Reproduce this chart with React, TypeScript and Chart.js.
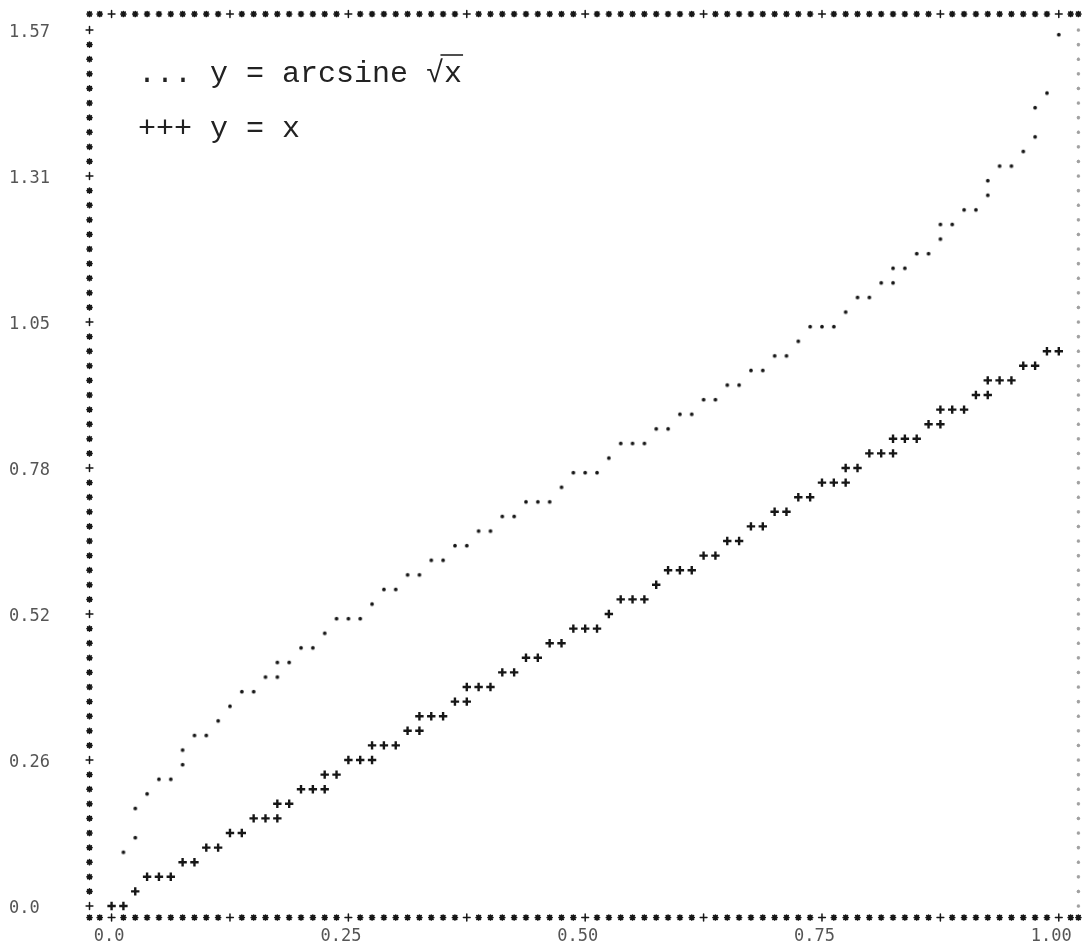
import React, { useEffect, useRef } from "react";
import { Chart, registerables } from "chart.js";

Chart.register(...registerables);

// ---- axis ticks ----
const xTickValues = [0, 0.25, 0.5, 0.75, 1.0];
const xTickLabels = ["0.0", "0.25", "0.50", "0.75", "1.00"];
const yTickValues = [0, 0.2618, 0.5236, 0.7854, 1.0472, 1.309, 1.5708];
const yTickLabels = ["0.0", "0.26", "0.52", "0.78", "1.05", "1.31", "1.57"];

// ---- series: y = arcsine sqrt(x)  (printed as ".") ----
const arcsineX = [
  0.0125, 0.025, 0.025, 0.0375, 0.05, 0.0625, 0.075, 0.075, 0.0875, 0.1,
  0.1125, 0.125, 0.1375, 0.15, 0.1625, 0.175, 0.175, 0.1875, 0.2, 0.2125,
  0.225, 0.2375, 0.25, 0.2625, 0.275, 0.2875, 0.3, 0.3125, 0.325, 0.3375,
  0.35, 0.3625, 0.375, 0.3875, 0.4, 0.4125, 0.425, 0.4375, 0.45, 0.4625,
  0.475, 0.4875, 0.5, 0.5125, 0.525, 0.5375, 0.55, 0.5625, 0.575, 0.5875,
  0.6, 0.6125, 0.625, 0.6375, 0.65, 0.6625, 0.675, 0.6875, 0.7, 0.7125,
  0.725, 0.7375, 0.75, 0.7625, 0.775, 0.7875, 0.8, 0.8125, 0.825, 0.825,
  0.8375, 0.85, 0.8625, 0.875, 0.875, 0.8875, 0.9, 0.9125, 0.925, 0.925,
  0.9375, 0.95, 0.9625, 0.975, 0.975, 0.9875, 1.0,
];
const arcsineY = [
  0.1047, 0.1309, 0.1833, 0.2094, 0.2356, 0.2356, 0.2618, 0.288, 0.3142, 0.3142,
  0.3403, 0.3665, 0.3927, 0.3927, 0.4189, 0.4189, 0.4451, 0.4451, 0.4712, 0.4712,
  0.4974, 0.5236, 0.5236, 0.5236, 0.5498, 0.576, 0.576, 0.6021, 0.6021, 0.6283,
  0.6283, 0.6545, 0.6545, 0.6807, 0.6807, 0.7069, 0.7069, 0.733, 0.733, 0.733,
  0.7592, 0.7854, 0.7854, 0.7854, 0.8116, 0.8378, 0.8378, 0.8378, 0.8639, 0.8639,
  0.8901, 0.8901, 0.9163, 0.9163, 0.9425, 0.9425, 0.9687, 0.9687, 0.9948, 0.9948,
  1.021, 1.0472, 1.0472, 1.0472, 1.0734, 1.0996, 1.0996, 1.1257, 1.1257, 1.1519,
  1.1519, 1.1781, 1.1781, 1.2043, 1.2305, 1.2305, 1.2566, 1.2566, 1.2828, 1.309,
  1.3352, 1.3352, 1.3614, 1.3875, 1.4399, 1.4661, 1.5708,
];

// ---- series: y = x  (printed as "+") ----
const identityX = [
  0, 0.0125, 0.025, 0.0375, 0.05, 0.0625, 0.075, 0.0875, 0.1, 0.1125,
  0.125, 0.1375, 0.15, 0.1625, 0.175, 0.175, 0.1875, 0.2, 0.2125, 0.225,
  0.225, 0.2375, 0.25, 0.2625, 0.275, 0.275, 0.2875, 0.3, 0.3125, 0.325,
  0.325, 0.3375, 0.35, 0.3625, 0.375, 0.375, 0.3875, 0.4, 0.4125, 0.425,
  0.4375, 0.45, 0.4625, 0.475, 0.4875, 0.5, 0.5125, 0.525, 0.5375, 0.55,
  0.5625, 0.575, 0.5875, 0.6, 0.6125, 0.625, 0.6375, 0.65, 0.6625, 0.675,
  0.6875, 0.7, 0.7125, 0.725, 0.7375, 0.75, 0.7625, 0.775, 0.775, 0.7875,
  0.8, 0.8125, 0.825, 0.825, 0.8375, 0.85, 0.8625, 0.875, 0.875, 0.8875,
  0.9, 0.9125, 0.925, 0.925, 0.9375, 0.95, 0.9625, 0.975, 0.9875, 1.0,
];
const identityY = [
  0, 0, 0.0262, 0.0524, 0.0524, 0.0524, 0.0785, 0.0785, 0.1047, 0.1047,
  0.1309, 0.1309, 0.1571, 0.1571, 0.1571, 0.1833, 0.1833, 0.2094, 0.2094, 0.2094,
  0.2356, 0.2356, 0.2618, 0.2618, 0.2618, 0.288, 0.288, 0.288, 0.3142, 0.3142,
  0.3403, 0.3403, 0.3403, 0.3665, 0.3665, 0.3927, 0.3927, 0.3927, 0.4189, 0.4189,
  0.4451, 0.4451, 0.4712, 0.4712, 0.4974, 0.4974, 0.4974, 0.5236, 0.5498, 0.5498,
  0.5498, 0.576, 0.6021, 0.6021, 0.6021, 0.6283, 0.6283, 0.6545, 0.6545, 0.6807,
  0.6807, 0.7069, 0.7069, 0.733, 0.733, 0.7592, 0.7592, 0.7592, 0.7854, 0.7854,
  0.8116, 0.8116, 0.8116, 0.8378, 0.8378, 0.8378, 0.8639, 0.8639, 0.8901, 0.8901,
  0.8901, 0.9163, 0.9163, 0.9425, 0.9425, 0.9425, 0.9687, 0.9687, 0.9948, 0.9948,
];

const legendLines = ["... y = arcsine \u221Ax", "+++ y = x"];

// ---- layout constants ----
const X_MIN = -0.0233;
const X_MAX = 1.0207;
const Y_MIN = -0.0206;
const Y_MAX = 1.5995;
const COLUMN_STEP = 0.0125; // printer column pitch, in x units
const ROW_STEP = Math.PI / 120; // printer line pitch, in y units
const INK = "#161616";

function makeDotStyle(): HTMLCanvasElement {
  const c = document.createElement("canvas");
  c.width = 8;
  c.height = 18;
  const g = c.getContext("2d")!;
  g.fillStyle = INK;
  g.beginPath();
  g.arc(4, 9 + 4.7, 1.85, 0, Math.PI * 2);
  g.fill();
  return c;
}

const printerFrame = {
  id: "printerFrame",
  afterDatasetsDraw(chart: any) {
    const { ctx, chartArea: a, scales } = chart;
    const xs = scales.x;
    const ys = scales.y;
    ctx.save();
    ctx.lineCap = "round";
    const star = (x: number, y: number, color: string, s: number, w: number) => {
      ctx.strokeStyle = color;
      ctx.lineWidth = w;
      ctx.beginPath();
      ctx.moveTo(x - s, y);
      ctx.lineTo(x + s, y);
      ctx.moveTo(x, y - s);
      ctx.lineTo(x, y + s);
      const d = s * 0.72;
      ctx.moveTo(x - d, y - d);
      ctx.lineTo(x + d, y + d);
      ctx.moveTo(x - d, y + d);
      ctx.lineTo(x + d, y - d);
      ctx.stroke();
    };
    const plus = (x: number, y: number, color: string, s: number, w: number) => {
      ctx.strokeStyle = color;
      ctx.lineWidth = w;
      ctx.beginPath();
      ctx.moveTo(x - s, y);
      ctx.lineTo(x + s, y);
      ctx.moveTo(x, y - s);
      ctx.lineTo(x, y + s);
      ctx.stroke();
    };
    for (let c = -3; c <= 83; c++) {
      const px = xs.getPixelForValue(c * COLUMN_STEP);
      if (px < a.left + 5 || px > a.right - 5) continue;
      if (c % 10 === 0) {
        plus(px, a.bottom, INK, 3.4, 1.5);
        plus(px, a.top, INK, 3.4, 1.5);
      } else {
        star(px, a.bottom, INK, 2.5, 1.7);
        star(px, a.top, INK, 2.5, 1.7);
      }
    }
    star(a.left, a.bottom, INK, 2.5, 1.7);
    star(a.left, a.top, INK, 2.5, 1.7);
    star(a.right, a.top, INK, 2.5, 1.7);
    star(a.right, a.bottom, INK, 2.5, 1.7);
    for (let r = 0; r <= 60; r++) {
      const py = ys.getPixelForValue(r * ROW_STEP);
      if (r % 10 === 0) plus(a.left, py, INK, 3.4, 1.5);
      else star(a.left, py, INK, 2.5, 1.7);
      star(a.right, py, "#a0a0a0", 1.3, 1.1);
    }
    ctx.restore();
  },
};

const printedLegend = {
  id: "printedLegend",
  afterDraw(chart: any) {
    const { ctx, chartArea: a } = chart;
    ctx.save();
    ctx.font = "30px 'Liberation Mono', 'DejaVu Sans Mono', monospace";
    ctx.fillStyle = "#222";
    ctx.textBaseline = "alphabetic";
    ctx.textAlign = "left";
    const x0 = a.left + 48.5;
    const y1 = a.top + 68;
    const y2 = a.top + 123;
    ctx.fillText(legendLines[0], x0, y1);
    ctx.fillText(legendLines[1], x0, y2);
    const line = legendLines[0];
    const k = line.indexOf("\u221A");
    const pre = ctx.measureText(line.slice(0, k)).width;
    const full = ctx.measureText(line).width;
    const cw = ctx.measureText("\u221A").width;
    ctx.strokeStyle = "#222";
    ctx.lineWidth = 1.6;
    ctx.beginPath();
    ctx.moveTo(x0 + pre + cw * 0.8, y1 - 27);
    ctx.lineTo(x0 + full + 1, y1 - 27);
    ctx.stroke();
    ctx.restore();
  },
};

export default function App() {
  const ref = useRef<HTMLCanvasElement>(null);
  useEffect(() => {
    document.body.style.margin = "0";
    const canvas = ref.current!;
    const dot = makeDotStyle();
    const tickFont = { family: "'DejaVu Sans Mono', monospace", size: 17 };
    const chart = new Chart(canvas, {
      type: "scatter",
      data: {
        datasets: [
          {
            label: "y = arcsine \u221Ax",
            data: arcsineX.map((x, i) => ({ x, y: arcsineY[i] })),
            pointStyle: dot as any,
            pointRadius: 2,
            pointHoverRadius: 2,
            showLine: false,
          },
          {
            label: "y = x",
            data: identityX.map((x, i) => ({ x, y: identityY[i] })),
            pointStyle: "cross",
            pointRadius: 4.2,
            pointHoverRadius: 4.2,
            borderWidth: 2.4,
            pointBorderWidth: 2.4,
            borderColor: INK,
            backgroundColor: INK,
            showLine: false,
          },
        ],
      },
      options: {
        animation: false,
        responsive: false,
        devicePixelRatio: 1,
        events: [],
        layout: { padding: { left: 9, top: 14, right: 2, bottom: 0 } },
        plugins: {
          legend: { display: false },
          tooltip: { enabled: false },
          title: { display: false },
        },
        scales: {
          x: {
            type: "linear",
            min: X_MIN,
            max: X_MAX,
            grid: { display: false },
            border: { display: false },
            afterBuildTicks: (s: any) => {
              s.ticks = xTickValues.map((v) => ({ value: v }));
            },
            afterFit: (s: any) => {
              s.height = 26.5;
            },
            ticks: {
              autoSkip: false,
              maxRotation: 0,
              minRotation: 0,
              align: "end",
              labelOffset: 13,
              padding: 1,
              color: "#555",
              font: tickFont,
              callback: (_v: any, i: number) => xTickLabels[i] ?? "",
            },
          },
          y: {
            type: "linear",
            min: Y_MIN,
            max: Y_MAX,
            grid: { display: false },
            border: { display: false },
            afterBuildTicks: (s: any) => {
              s.ticks = yTickValues.map((v) => ({ value: v }));
            },
            afterFit: (s: any) => {
              s.width = 80.5;
            },
            ticks: {
              autoSkip: false,
              crossAlign: "far",
              padding: 0,
              labelOffset: 3,
              color: "#555",
              font: tickFont,
              callback: (_v: any, i: number) => yTickLabels[i] ?? "",
            },
          },
        },
      },
      plugins: [printerFrame, printedLegend],
    } as any);
    return () => chart.destroy();
  }, []);
  return (
    <canvas
      ref={ref}
      width={1085}
      height={944}
      style={{ display: "block", width: 1085, height: 944 }}
    />
  );
}
